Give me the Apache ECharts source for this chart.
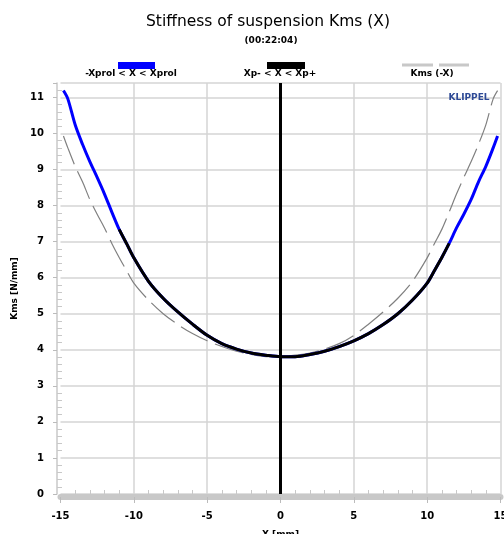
<!DOCTYPE html>
<html>
<head>
<meta charset="utf-8">
<script src="https://cdn.jsdelivr.net/npm/echarts@6/dist/echarts.min.js"></script>
<style>html,body{margin:0;padding:0;background:#fff}#c{width:504px;height:534px}</style>
</head>
<body>
<div id="c"></div>
<script>
// Displacement X [mm]
var xValues = [-14.8, -14.5, -14, -13.5, -13, -12.5, -12, -11.5, -11, -10.5, -10, -9, -8, -7, -6, -5, -4, -3, -2, -1, 0, 1, 2, 3, 4, 5, 6, 7, 8, 9, 10, 10.5, 11, 11.5, 12, 12.5, 13, 13.5, 14, 14.5, 14.8];
// Kms(X) [N/mm]
var kmsValues = [11.19, 10.96, 10.24, 9.7, 9.22, 8.78, 8.32, 7.82, 7.34, 6.95, 6.55, 5.9, 5.43, 5.05, 4.71, 4.4, 4.17, 4.02, 3.91, 3.85, 3.81, 3.81, 3.87, 3.96, 4.09, 4.25, 4.45, 4.7, 5.0, 5.38, 5.85, 6.2, 6.56, 6.95, 7.38, 7.76, 8.17, 8.66, 9.09, 9.6, 9.93];
// Xp- and Xp+ range limits [mm]
var xpMinus = -11.1, xpPlus = 11.6;
var xTicks = [-15, -10, -5, 0, 5, 10, 15];
var yTicks = [0, 1, 2, 3, 4, 5, 6, 7, 8, 9, 10, 11];
var legendNames = ['-Xprol < X < Xprol', 'Xp- < X < Xp+', 'Kms (-X)'];

var fullData = xValues.map(function (x, i) { return [x, kmsValues[i]]; });
var xpData = fullData.filter(function (p) { return p[0] >= xpMinus && p[0] <= xpPlus; });
var mirrorData = xValues.map(function (x, i) { return [-x, kmsValues[i]]; }).reverse();

var F = 'DejaVu Sans';
var hideText = { fontSize: 0, color: 'rgba(0,0,0,0)' };
var chart = echarts.init(document.getElementById('c'));
chart.setOption({
  animation: false,
  backgroundColor: '#fff',
  grid: { left: 60.5, right: 3.5, top: 83, bottom: 40, outerBoundsMode: 'none' },
  legend: [
    { data: [{ name: legendNames[0], icon: 'rect', itemStyle: { color: '#0000ff' } }], left: 113, top: 57, itemWidth: 37, itemHeight: 7, itemGap: 0, selectedMode: false, textStyle: hideText, formatter: function () { return ''; } },
    { data: [{ name: legendNames[1], icon: 'rect', itemStyle: { color: '#000000' } }], left: 262, top: 57, itemWidth: 38, itemHeight: 7, itemGap: 0, selectedMode: false, textStyle: hideText, formatter: function () { return ''; } },
    { data: [{ name: legendNames[2], icon: 'path://M0,0H31V3H0Z M37,0H67V3H37Z', itemStyle: { color: '#c8c8c8', borderWidth: 0 }, lineStyle: { width: 0 } }], left: 397, top: 58.5, itemWidth: 67, itemHeight: 3, itemGap: 0, selectedMode: false, textStyle: hideText, formatter: function () { return ''; } }
  ],
  graphic: [
    { type: 'text', x: 268, y: 22, style: { text: 'Stiffness of suspension Kms (X)', font: '15.5px ' + F, fill: '#000', textAlign: 'center', textVerticalAlign: 'middle' } },
    { type: 'text', x: 271, y: 41, style: { text: '(00:22:04)', font: 'bold 9px ' + F, fill: '#000', textAlign: 'center', textVerticalAlign: 'middle' } },
    { type: 'text', x: 131, y: 74, style: { text: legendNames[0], font: 'bold 9px ' + F, fill: '#000', textAlign: 'center', textVerticalAlign: 'middle' } },
    { type: 'text', x: 280, y: 74, style: { text: legendNames[1], font: 'bold 9px ' + F, fill: '#000', textAlign: 'center', textVerticalAlign: 'middle' } },
    { type: 'text', x: 432, y: 74, style: { text: legendNames[2], font: 'bold 9px ' + F, fill: '#000', textAlign: 'center', textVerticalAlign: 'middle' } },
    { type: 'text', x: 469, y: 98, z: 10, style: { text: 'KLIPPEL', font: 'bold 9px ' + F, fill: '#2e4a96', textAlign: 'center', textVerticalAlign: 'middle' } }
  ],
  xAxis: {
    type: 'value', min: -15, max: 15, interval: 5, offset: 3,
    name: 'X [mm]', nameLocation: 'middle', nameGap: 33,
    nameTextStyle: { fontFamily: F, fontWeight: 'bold', fontSize: 9, color: '#000' },
    axisLine: { show: true, onZero: false, lineStyle: { color: '#c8c8c8', width: 6 } },
    axisTick: { show: true, length: 6, lineStyle: { color: '#bbb', width: 1 } },
    minorTick: { show: true, splitNumber: 5, length: -7, lineStyle: { color: '#c8c8c8', width: 1 } },
    axisLabel: { margin: 14, fontFamily: F, fontWeight: 'bold', fontSize: 10, color: '#000',
      formatter: function (v) { return xTicks.indexOf(v) >= 0 ? String(v) : ''; } },
    splitLine: { show: true, showMinLine: false, lineStyle: { color: '#d4d4d4', width: 1.5 } }
  },
  yAxis: {
    type: 'value', min: 0, max: 11.4, interval: 1, offset: 3.5,
    name: 'Kms [N/mm]', nameLocation: 'middle', nameGap: 35,
    nameTextStyle: { fontFamily: F, fontWeight: 'bold', fontSize: 9, color: '#000' },
    axisLine: { show: true, onZero: false, lineStyle: { color: '#c8c8c8', width: 1.5 } },
    axisTick: { show: true, length: 4, lineStyle: { color: '#bbb', width: 1 } },
    minorTick: { show: true, splitNumber: 5, length: -5, lineStyle: { color: '#c8c8c8', width: 1 } },
    axisLabel: { margin: 13, fontFamily: F, fontWeight: 'bold', fontSize: 10, color: '#000',
      formatter: function (v) { return yTicks.indexOf(v) >= 0 ? String(v) : ''; } },
    splitLine: { show: true, lineStyle: { color: '#d4d4d4', width: 1.5 } }
  },
  series: [
    { name: legendNames[2], type: 'line', data: mirrorData, symbol: 'none', smooth: 0.3, z: 2,
      lineStyle: { color: '#808080', width: 1.2, type: [30, 8] }, itemStyle: { color: '#c8c8c8' } },
    { name: legendNames[0], type: 'line', data: fullData, symbol: 'none', smooth: 0.3, z: 3,
      lineStyle: { color: '#0000ff', width: 3 }, itemStyle: { color: '#0000ff' } },
    { name: legendNames[1], type: 'line', data: xpData, symbol: 'none', smooth: 0.3, z: 4,
      lineStyle: { color: '#000000', width: 3 }, itemStyle: { color: '#000' },
      markLine: { silent: true, symbol: 'none', label: { show: false },
        lineStyle: { color: '#000', width: 3, type: 'solid' }, data: [{ xAxis: 0 }] } }
  ]
});
</script>
</body>
</html>
